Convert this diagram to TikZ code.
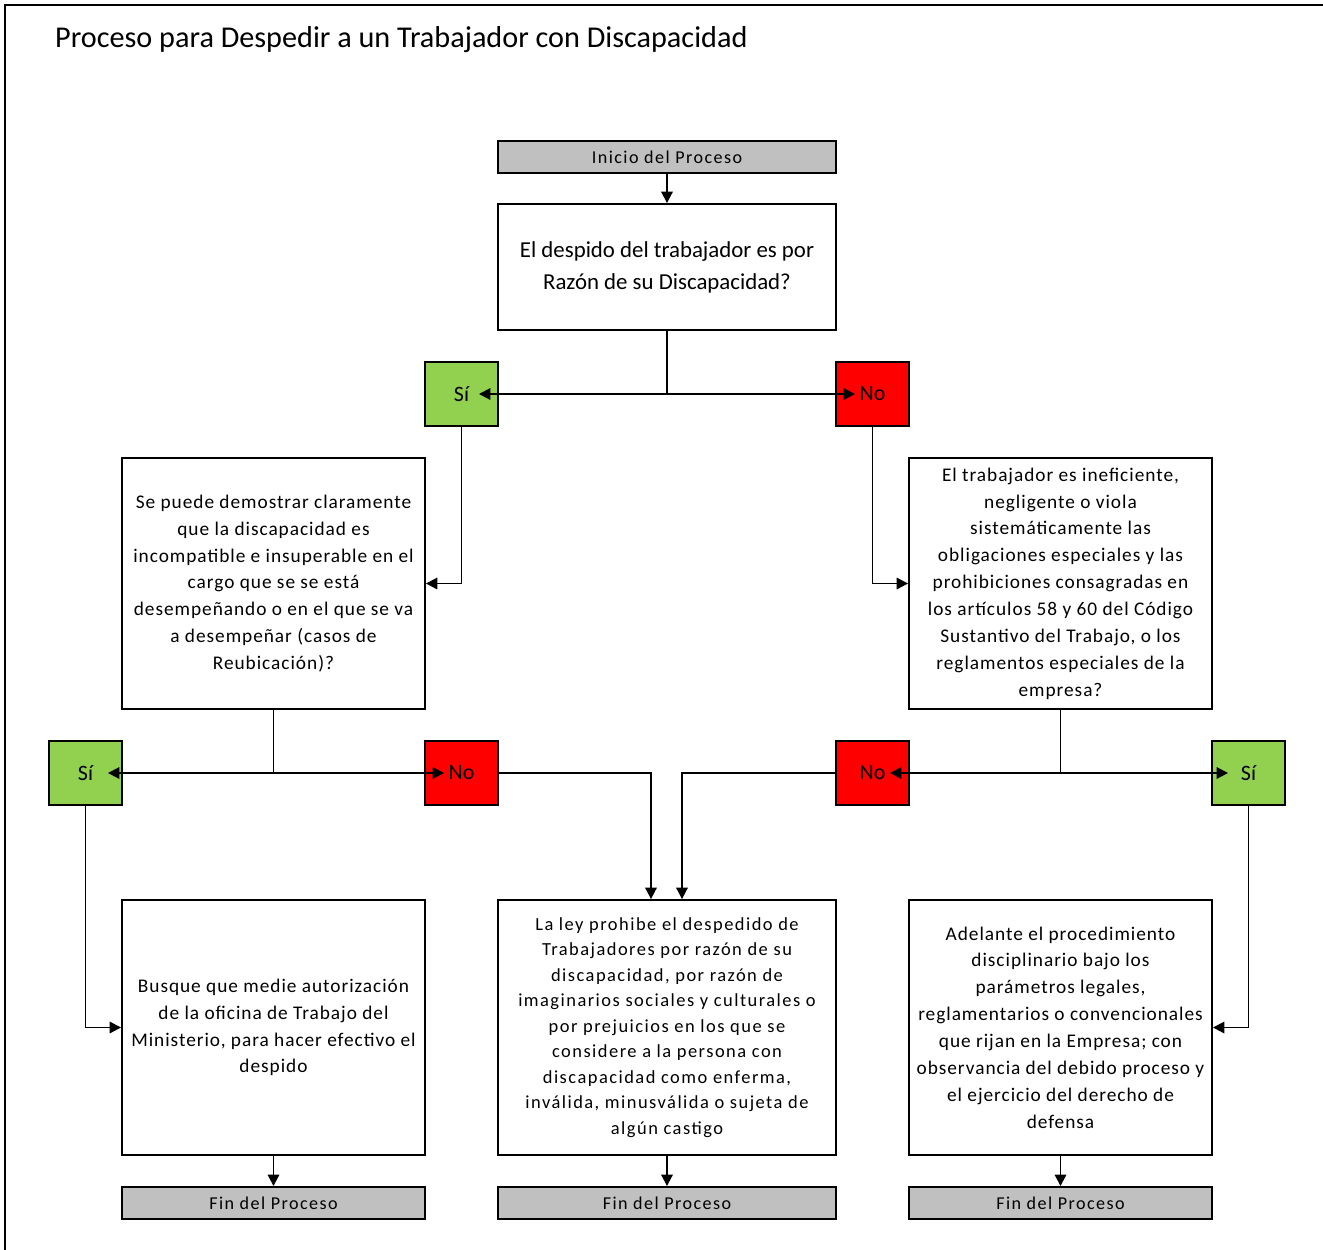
\documentclass[tikz,border=0pt]{standalone}
\usepackage{fontspec}
\setmainfont{Carlito}
\newfontfamily\espaciada[LetterSpace=5]{Carlito}
\newfontfamily\muyespaciada[LetterSpace=8]{Carlito}
\usetikzlibrary{arrows.meta,calc}

\definecolor{verdesi}{RGB}{146,208,80}
\definecolor{rojono}{RGB}{255,0,0}
\definecolor{grisproc}{RGB}{192,192,192}

\tikzset{
  caja/.style={draw, line width=1.1pt, fill=white, align=center, inner sep=2pt},
  extremo/.style={caja, fill=grisproc, minimum height=0.64cm, font=\muyespaciada\fontsize{10.3}{12}\selectfont},
  pregunta/.style={caja, minimum width=6.06cm, minimum height=5.02cm, font=\espaciada\fontsize{11}{15.3}\selectfont},
  accion/.style={caja, minimum height=5.10cm, font=\espaciada\fontsize{11}{15.3}\selectfont},
  opcion/.style={draw, line width=1.1pt, minimum width=1.46cm, minimum height=1.28cm, font=\fontsize{12.5}{14}\selectfont},
  flujo/.style={line width=1.1pt, -{Triangle[length=6.5pt,width=6.5pt]}},
}

\begin{document}
\begin{tikzpicture}[x=0.02cm, y=-0.02cm]
    \useasboundingbox (0,0) rectangle (1323,1249);
    \draw[line width=1.6pt] (5,5) rectangle (1340,1270);
    \node (titulo) [anchor=west, font=\fontsize{17.2}{20}\selectfont] at (49,40) {Proceso para Despedir a un Trabajador con Discapacidad};

    % primera pregunta
    \node (inicio) [extremo, minimum width=6.76cm] at (667,157) {Inicio del Proceso};
    \node (q1) [caja, minimum width=6.76cm, minimum height=2.52cm, font=\fontsize{13}{18.1}\selectfont] at (667,267) {El despido del trabajador es por\\Razón de su Discapacidad?};
    \node (si1) [opcion, fill=verdesi] at (461.5,394) {Sí};
    \node (no1) [opcion, fill=rojono] at (872.5,394) {No};

    % segundo nivel
    \node (q2) [pregunta] at (273.5,583.5) {Se puede demostrar claramente\\que la  discapacidad es\\incompatible e insuperable en el\\cargo que se se está\\desempeñando o en el que se va\\a desempeñar (casos de\\Reubicación)?};
    \node (q3) [pregunta] at (1060.5,583.5) {El trabajador es ineficiente,\\negligente o viola\\sistemáticamente las\\obligaciones especiales y las\\prohibiciones consagradas en\\los artículos 58 y 60 del Código\\Sustantivo del Trabajo, o los\\reglamentos especiales de la\\empresa?};
    \node (si2) [opcion, fill=verdesi] at (85.5,773) {Sí};
    \node (no2) [opcion, fill=rojono] at (461.5,773) {No};
    \node (no3) [opcion, fill=rojono] at (872.5,773) {No};
    \node (si3) [opcion, fill=verdesi] at (1248.5,773) {Sí};

    % resultados
    \node (b1) [accion, minimum width=6.06cm] at (273.5,1027.5) {Busque que medie autorización\\de la oficina de Trabajo del\\Ministerio, para hacer efectivo el\\despido};
    \node (b2) [accion, minimum width=6.76cm, font=\muyespaciada\fontsize{10.5}{14.5}\selectfont] at (667,1027.5) {La ley prohibe el despedido de\\Trabajadores por razón de su\\discapacidad, por razón de\\imaginarios sociales y culturales o\\por prejuicios en los que se\\considere a la persona con\\discapacidad como enferma,\\inválida, minusválida o sujeta de\\algún castigo};
    \node (b3) [accion, minimum width=6.06cm] at (1060.5,1027.5) {Adelante el procedimiento\\disciplinario bajo los\\parámetros legales,\\reglamentarios o convencionales\\que rijan en la Empresa; con\\observancia del debido proceso y\\el ejercicio del derecho de\\defensa};
    \node (fin1) [extremo, minimum width=6.06cm] at (273.5,1203) {Fin del Proceso};
    \node (fin2) [extremo, minimum width=6.76cm] at (667,1203) {Fin del Proceso};
    \node (fin3) [extremo, minimum width=6.06cm] at (1060.5,1203) {Fin del Proceso};

    \draw[flujo] (inicio) -- (q1);
    \draw[flujo] (q1.south) |- ($(si1.east)+(-20,0)$);
    \draw[flujo] (q1.south) |- ($(no1.west)+(20,0)$);
    \draw[flujo] (si1.south) |- (q2.east);
    \draw[flujo] (no1.south) |- (q3.west);
    \draw[flujo] (q2.south) |- ($(si2.east)+(-15,0)$);
    \draw[flujo] (q2.south) |- ($(no2.west)+(20,0)$);
    \draw[flujo] (q3.south) |- ($(no3.east)+(-20,0)$);
    \draw[flujo] (q3.south) |- ($(si3.west)+(17,0)$);
    \draw[flujo] (si2.south) |- (b1.west);
    \draw[flujo] (si3.south) |- (b3.east);
    \draw[flujo] (no2.east) -| ($(b2.north)+(-16,0)$);
    \draw[flujo] (no3.west) -| ($(b2.north)+(15,0)$);
    \draw[flujo] (b1) -- (fin1);
    \draw[flujo] (b2) -- (fin2);
    \draw[flujo] (b3) -- (fin3);
\end{tikzpicture}
\end{document}
